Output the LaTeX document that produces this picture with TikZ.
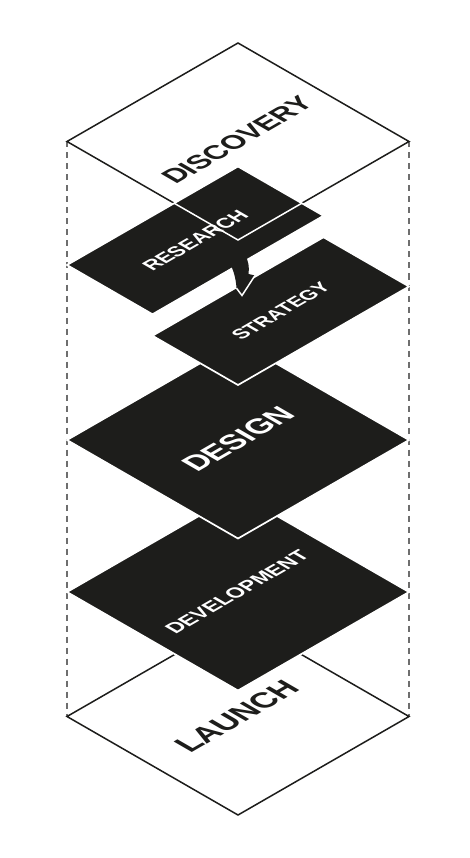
\documentclass[tikz,border=0pt]{standalone}
\usepackage{fontspec}
\newfontfamily\labfont{Liberation Sans}
\definecolor{ink}{RGB}{29,29,27}
\definecolor{dashgray}{RGB}{110,110,110}
\tikzset{
  blackplane/.style={fill=ink, draw=white, line width=1.7pt, line join=miter},
  whiteplane/.style={draw=ink, line width=1.5pt, line join=miter},
  guide/.style={draw=dashgray, line width=1.2pt, dash pattern=on 6pt off 5pt},
  isotext/.style={cm={0.866,0.5,-0.866,0.5,(0,0)}},
  lab/.style={inner sep=0pt, transform shape},
  bigdark/.style={lab, text=ink, font={\labfont\bfseries\fontsize{#1}{#1}\selectfont}},
  biglight/.style={lab, text=white, font={\labfont\bfseries\fontsize{#1}{#1}\selectfont}},
}
\begin{document}
\begin{tikzpicture}[x=1pt,y=-1pt]
\useasboundingbox (0,0) rectangle (470,858);
% corners
\coordinate (dT) at (238,43);    \coordinate (dL) at (67,141.5);
\coordinate (dR) at (409,141.5); \coordinate (dB) at (238,240);
\coordinate (lT) at (238,618);   \coordinate (lL) at (67,716.5);
\coordinate (lR) at (409,716.5); \coordinate (lB) at (238,815);
\coordinate (vT) at (238,493.5); \coordinate (vL) at (67,592);
\coordinate (vR) at (409,592);   \coordinate (vB) at (238,690.5);
\coordinate (gT) at (238,341.5); \coordinate (gL) at (67,440);
\coordinate (gR) at (409,440);   \coordinate (gB) at (238,538.5);
\coordinate (sT) at (323.5,237.25); \coordinate (sR) at (409,286.5);
\coordinate (sB) at (238,385);      \coordinate (sL) at (152.5,335.75);
\coordinate (rT) at (238,166.5);    \coordinate (rR) at (323.5,215.75);
\coordinate (rB) at (152.5,314.25); \coordinate (rL) at (67,265);
% guides
\draw[guide] (dL) -- (lL);
\draw[guide] (dR) -- (lR);
% discovery and launch planes
\draw[whiteplane] (dT) -- (dR) -- (dB) -- (dL) -- cycle;
\draw[whiteplane, fill=white] (lT) -- (lR) -- (lB) -- (lL) -- cycle;
% black planes
\filldraw[blackplane] (vT) -- (vR) -- (vB) -- (vL) -- cycle;
\filldraw[blackplane] (gT) -- (gR) -- (gB) -- (gL) -- cycle;
\filldraw[blackplane] (sT) -- (sR) -- (sB) -- (sL) -- cycle;
\filldraw[blackplane] (rT) -- (rR) -- (rB) -- (rL) -- cycle;
% discovery outline seen over research
\begin{scope}
  \clip (rT) -- (rR) -- (rB) -- (rL) -- cycle;
  \draw[white, line width=1.5pt, line join=miter] (dT) -- (dR) -- (dB) -- (dL) -- cycle;
\end{scope}
% arrow from research to strategy
\coordinate (aA) at (229,262);
\coordinate (aLB) at (236.5,288.2);
\coordinate (aTip) at (242,295.5);
\coordinate (aRB) at (255,275.5);
\coordinate (aRC) at (248.5,274);
\coordinate (aE) at (245,255);
\fill[ink] (aA) .. controls (234,270) and (236,280) .. (aLB) -- (aTip) -- (aRB) -- (aRC)
  .. controls (249.5,267) and (248.5,261) .. (aE) -- cycle;
\draw[white, line width=1.5pt, line join=miter] (aLB) -- (aTip) -- (aRB);
% labels
\begin{scope}[shift={(237,140)}, isotext]
  \node[bigdark=27.5] (tDisc) at (0,0) {DISCOVERY};
\end{scope}
\begin{scope}[shift={(195.3,240.4)}, isotext]
  \node[biglight=20] (tRes) at (0,0) {RESEARCH};
\end{scope}
\begin{scope}[shift={(280.8,311)}, isotext]
  \node[biglight=19.5] (tStr) at (0,0) {STRATEGY};
\end{scope}
\begin{scope}[shift={(238,439)}, isotext]
  \node[biglight=30] (tDes) at (0,0) {DESIGN};
\end{scope}
\begin{scope}[shift={(237,592)}, isotext]
  \node[biglight=20.5] (tDev) at (0,0) {DEVELOPMENT};
\end{scope}
\begin{scope}[shift={(237,716.5)}, isotext]
  \node[bigdark=30.5] (tLau) at (0,0) {LAUNCH};
\end{scope}
\end{tikzpicture}
\end{document}
